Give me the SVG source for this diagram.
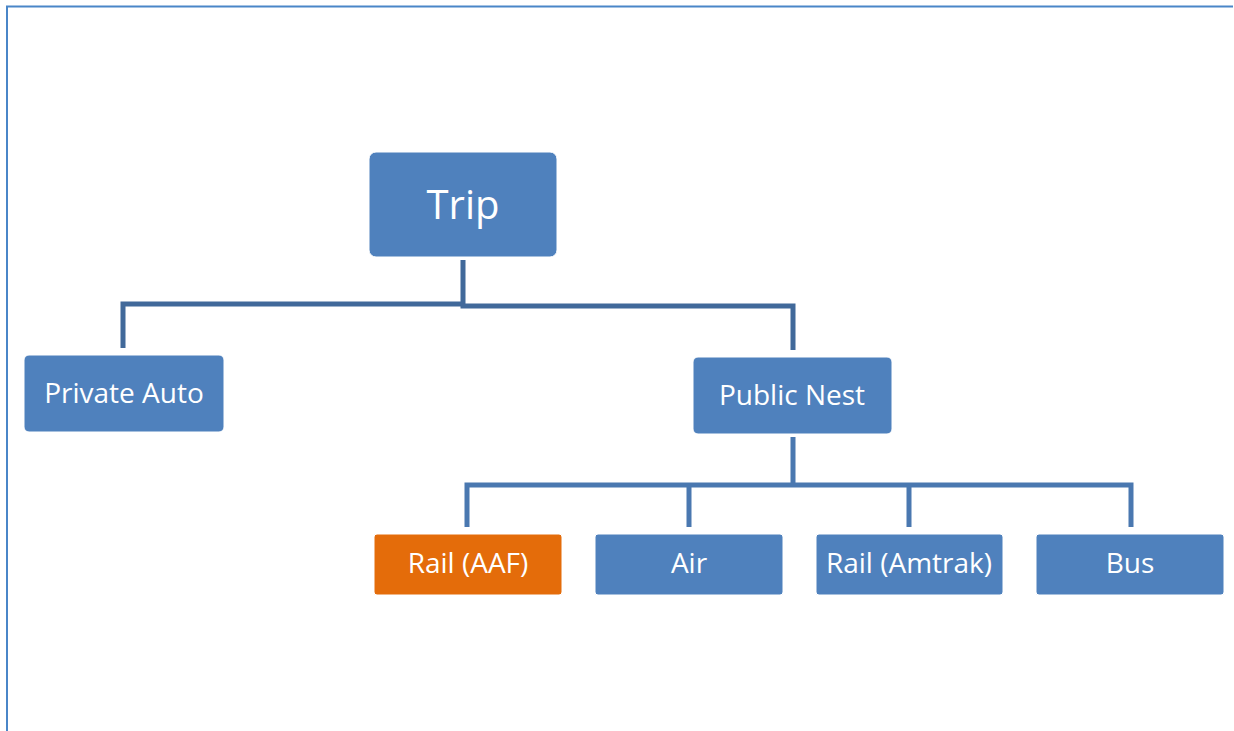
<svg xmlns="http://www.w3.org/2000/svg" width="1234" height="731" viewBox="0 0 1234 731">
  <style>
    .box { fill: #4F81BD; stroke: #ffffff; stroke-width: 1; }
    .hot { fill: #E46C0A; stroke: #ffffff; stroke-width: 1; }
    .lbl { fill: #ffffff; font-family: "Open Sans", "Noto Sans", sans-serif; font-size: 28px; text-anchor: middle; dominant-baseline: central; }
    .big { font-size: 40px; }
    .wire { fill: none; stroke: #41699A; stroke-width: 5; stroke-linejoin: miter; stroke-linecap: butt; }
    .wire2 { fill: none; stroke: #4A78B0; stroke-width: 5; stroke-linejoin: miter; stroke-linecap: butt; }
    .frame { fill: none; stroke: #4A86C8; stroke-width: 2; }
  </style>
  <rect width="1234" height="731" fill="#ffffff"/>
  <path class="frame" d="M7 731 V6.5 H1233"/>

  <g id="connectors">
    <path class="wire" d="M463 260 V304 H123 V348"/>
    <path class="wire" d="M463 304 V306 H793 V350"/>
    <path class="wire2" d="M793 437 V485 M467 527 V485 H1131 V527 M689 485 V527 M909 485 V527"/>
  </g>

  <g id="trip">
    <rect class="box" x="369" y="152" width="188" height="105" rx="7"/>
    <text class="lbl big" x="463" y="203">Trip</text>
  </g>
  <g id="private-auto">
    <rect class="box" x="24" y="355" width="200" height="77" rx="5"/>
    <text class="lbl" x="124" y="392">Private Auto</text>
  </g>
  <g id="public-nest">
    <rect class="box" x="693" y="357" width="199" height="77" rx="5"/>
    <text class="lbl" x="792" y="394">Public Nest</text>
  </g>
  <g id="rail-aaf">
    <rect class="hot" x="374" y="534" width="188" height="61" rx="3"/>
    <text class="lbl" x="468" y="562">Rail (AAF)</text>
  </g>
  <g id="air">
    <rect class="box" x="595" y="534" width="188" height="61" rx="3"/>
    <text class="lbl" x="689" y="562">Air</text>
  </g>
  <g id="rail-amtrak">
    <rect class="box" x="816" y="534" width="187" height="61" rx="3"/>
    <text class="lbl" x="909" y="562">Rail (Amtrak)</text>
  </g>
  <g id="bus">
    <rect class="box" x="1036" y="534" width="188" height="61" rx="3"/>
    <text class="lbl" x="1130" y="562">Bus</text>
  </g>
</svg>
